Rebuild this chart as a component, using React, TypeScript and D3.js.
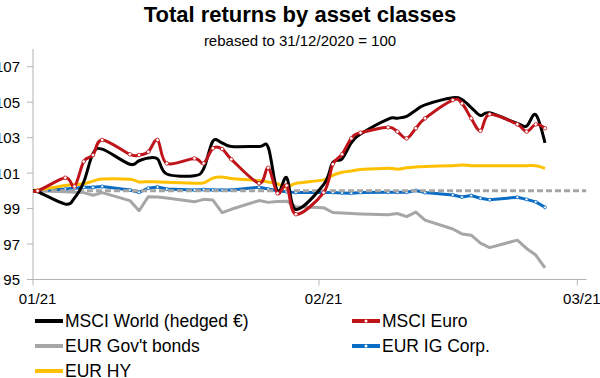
import React from "react";
import * as d3 from "d3";

const dates = ["2020-12-31","2021-01-01","2021-01-04","2021-01-05","2021-01-06","2021-01-07","2021-01-08","2021-01-11","2021-01-12","2021-01-13","2021-01-14","2021-01-15","2021-01-18","2021-01-19","2021-01-20","2021-01-21","2021-01-22","2021-01-25","2021-01-26","2021-01-27","2021-01-28","2021-01-29","2021-02-01","2021-02-02","2021-02-03","2021-02-04","2021-02-05","2021-02-08","2021-02-09","2021-02-10","2021-02-11","2021-02-12","2021-02-15","2021-02-16","2021-02-17","2021-02-18","2021-02-19","2021-02-22","2021-02-23","2021-02-24","2021-02-25"];

const msciWorld = [100, 99.95, 99.25, 99.6, 100.5, 102.1, 102.35, 101.5, 101.7, 101.85, 101.8, 100.95, 100.85, 101.25, 102.8, 102.7, 102.5, 102.5, 102.45, 99.95, 100.75, 98.95, 100.35, 101.6, 101.8, 102.7, 103.2, 104.05, 104.1, 104.2, 104.55, 104.85, 105.25, 105.15, 104.7, 104.25, 104.4, 103.8, 103.65, 104.3, 102.7];
const msciEuro = [100.1, 100.0, 100.74, 100.25, 101.65, 102.02, 102.87, 102.06, 102.02, 102.2, 102.87, 101.55, 101.83, 101.55, 102.4, 102.36, 101.78, 100.43, 101.3, 99.86, 100.3, 98.68, 99.9, 101.5, 102.06, 102.96, 103.28, 103.58, 103.34, 102.96, 103.53, 104.09, 105.12, 104.93, 104.09, 103.39, 104.32, 103.75, 103.34, 103.75, 103.53];
const govBonds = [100, 100, 99.95, 99.92, 99.9, 99.75, 99.9, 99.45, 98.88, 99.67, 99.65, 99.6, 99.38, 99.52, 99.48, 98.77, 98.96, 99.45, 99.35, 99.4, 99.42, 99.1, 99.05, 98.78, 98.75, 98.72, 98.7, 98.65, 98.72, 98.55, 98.8, 98.35, 97.85, 97.57, 97.5, 97.05, 96.8, 97.22, 96.75, 96.38, 95.65];
const igCorp = [100, 100, 100.1, 100.15, 100.2, 100.2, 100.25, 100.05, 99.92, 100.15, 100.22, 100.1, 100.05, 100.08, 100.05, 100.05, 100.05, 100.2, 100.1, 100.0, 99.95, 99.9, 99.9, 99.9, 99.88, 99.86, 99.9, 99.92, 99.92, 99.92, 100.02, 99.9, 99.77, 99.65, 99.74, 99.58, 99.5, 99.64, 99.52, 99.38, 99.07];
const eurHY = [100, 100.05, 100.3, 100.35, 100.4, 100.55, 100.67, 100.65, 100.5, 100.52, 100.5, 100.48, 100.43, 100.45, 100.72, 100.78, 100.7, 100.58, 100.5, 100.4, 100.2, 100.42, 100.62, 100.88, 101.05, 101.12, 101.2, 101.28, 101.22, 101.3, 101.35, 101.38, 101.42, 101.46, 101.42, 101.42, 101.42, 101.42, 101.42, 101.42, 101.27];

const yTicks = [95, 97, 99, 101, 103, 105, 107];
const xTicks = ["2021-01-01", "2021-02-01", "2021-03-01"];
const xTickLabels = ["01/21", "02/21", "03/21"];

const seriesNames = ["MSCI World (hedged €)", "MSCI Euro", "EUR Gov't bonds", "EUR IG Corp.", "EUR HY"];
const seriesColors = ["#000000", "#c0141b", "#a6a6a6", "#0a6cc4", "#ffc000"];

const W = 600, H = 378;
const parse = (s: string) => new Date(s + "T00:00:00");
const mid = (s: string) => new Date(s + "T12:00:00");

export default function App() {
  const x = d3.scaleTime().domain([parse("2021-01-01"), parse("2021-03-02")]).range([33, 586.5]);
  const y = d3.scaleLinear().domain([95, 108]).range([279.5, 49]);
  const pts = (vals: number[]) => vals.map((v, i) => [x(mid(dates[i])), y(v)] as [number, number]);
  const smooth = d3.line().curve(d3.curveCardinal.tension(0));
  const straight = d3.line();

  const series = [
    { vals: govBonds, color: seriesColors[2], gen: straight },
    { vals: igCorp, color: seriesColors[3], gen: straight },
    { vals: eurHY, color: seriesColors[4], gen: smooth },
    { vals: msciWorld, color: seriesColors[0], gen: smooth },
    { vals: msciEuro, color: seriesColors[1], gen: smooth },
  ];

  const legend = [
    { i: 0, lx: 35, ly: 321 },
    { i: 1, lx: 352, ly: 321 },
    { i: 2, lx: 35, ly: 346 },
    { i: 3, lx: 352, ly: 346 },
    { i: 4, lx: 35, ly: 371 },
  ];

  const font = "'Liberation Sans', Arial, sans-serif";
  const axisColor = "#b4b4b4";

  return (
    <svg width={W} height={H} style={{ position: "absolute", left: 0, top: 0, background: "#fff" }} fontFamily={font}>
      <defs>
        <clipPath id="plot">
          <rect x={33} y={40} width={553.5} height={245} />
        </clipPath>
      </defs>
      <text x={300} y={22} textAnchor="middle" fontSize={22} fontWeight="bold">Total returns by asset classes</text>
      <text x={300} y={46} textAnchor="middle" fontSize={15}>rebased to 31/12/2020 = 100</text>

      {/* y axis */}
      <line x1={33} x2={33} y1={y(108)} y2={y(95)} stroke={axisColor} strokeWidth={1} />
      {yTicks.map((t) => (
        <g key={t}>
          <line x1={27} x2={33} y1={y(t)} y2={y(t)} stroke={axisColor} strokeWidth={1} />
          <text x={20} y={y(t) + 5.5} textAnchor="end" fontSize={15}>{t}</text>
        </g>
      ))}
      {/* x axis */}
      <line x1={33} x2={586.5} y1={y(95)} y2={y(95)} stroke={axisColor} strokeWidth={1} />
      {xTicks.map((t, i) => (
        <g key={t}>
          <line x1={x(parse(t))} x2={x(parse(t))} y1={y(95)} y2={y(95) + 6} stroke={axisColor} strokeWidth={1} />
          <text x={x(mid(t))} y={303.5} textAnchor="middle" fontSize={15}>{xTickLabels[i]}</text>
        </g>
      ))}

      <g clipPath="url(#plot)">
        {series.slice(0, 2).map((s, k) => (
          <path key={k} d={s.gen(pts(s.vals)) || ""} fill="none" stroke={s.color} strokeWidth={3} strokeLinejoin="round" />
        ))}
        {igCorp.map((v, i) => (
          <circle key={"b" + i} cx={x(mid(dates[i]))} cy={y(v)} r={1.5} fill="#fff" stroke={seriesColors[3]} strokeWidth={0.8} />
        ))}
        <line x1={33} x2={586.5} y1={y(100)} y2={y(100)} stroke="#a6a6a6" strokeWidth={3} strokeDasharray="6,3" />
        {series.slice(2).map((s, k) => (
          <path key={"s" + k} d={s.gen(pts(s.vals)) || ""} fill="none" stroke={s.color} strokeWidth={3} strokeLinejoin="round" />
        ))}
        {msciEuro.map((v, i) => (
          <circle key={"r" + i} cx={x(mid(dates[i]))} cy={y(v)} r={1.8} fill="#fff" stroke={seriesColors[1]} strokeWidth={0.8} />
        ))}
      </g>

      {legend.map((l) => (
        <g key={l.i}>
          <line x1={l.lx} x2={l.lx + 28} y1={l.ly} y2={l.ly} stroke={seriesColors[l.i]} strokeWidth={4} />
          {(l.i === 1 || l.i === 3) && (
            <circle cx={l.lx + 14} cy={l.ly} r={1.5} fill="#fff" />
          )}
          <text x={l.lx + 30} y={l.ly + 6} fontSize={17.5}>{seriesNames[l.i]}</text>
        </g>
      ))}
    </svg>
  );
}
